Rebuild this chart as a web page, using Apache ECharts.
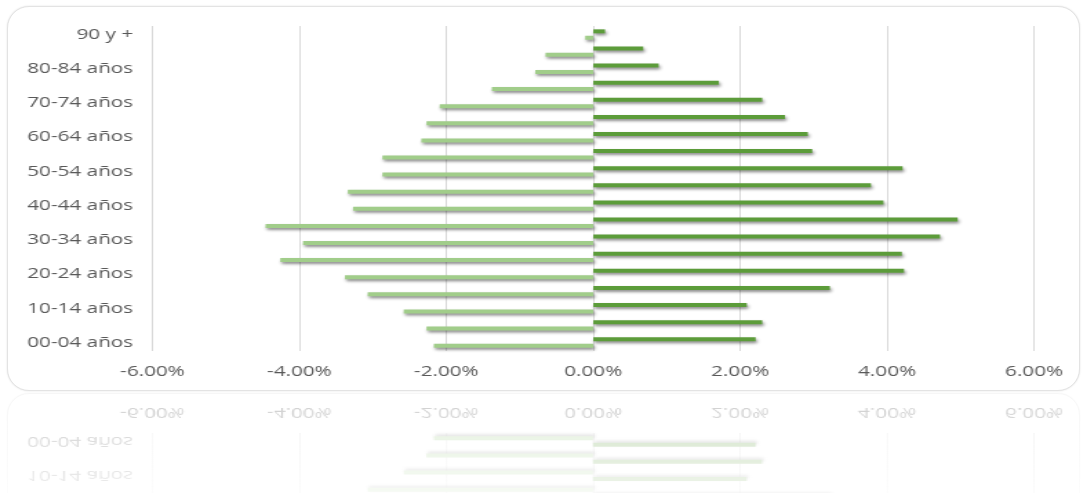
<!DOCTYPE html>
<html>
<head>
<meta charset="utf-8">
<script src="https://cdn.jsdelivr.net/npm/echarts@6/dist/echarts.min.js"></script>
<style>
  html, body { margin: 0; padding: 0; background: #ffffff; width: 1087px; height: 493px; overflow: hidden; }
  .layer { position: absolute; left: 0; top: 0; width: 1087px; height: 392px; }
  .frame { position: absolute; left: 7px; top: 6px; width: 1071px; height: 383px; border: 1px solid #e3e3e3; border-radius: 22px; box-shadow: 0 0 2px rgba(0,0,0,0.12); background: #fff; }
  .chartbox { position: absolute; left: 0; top: 0; width: 788px; height: 392px; transform: scaleX(1.3795); transform-origin: 0 0; }
  #reflWrap { position: absolute; left: 0; top: 392px; width: 1087px; height: 101px; overflow: hidden; opacity: 0.3; filter: blur(0.7px);
    -webkit-mask-image: linear-gradient(to bottom, rgba(0,0,0,1), rgba(0,0,0,0.35));
    mask-image: linear-gradient(to bottom, rgba(0,0,0,1), rgba(0,0,0,0.35)); }
  #mirror { position: absolute; left: 0; top: -392px; width: 1087px; height: 392px; transform: scaleY(-1); transform-origin: 50% 100%; }
</style>
</head>
<body>
<div class="layer">
  <div class="frame"></div>
  <div class="chartbox" id="main"></div>
</div>
<div id="reflWrap">
  <div id="mirror">
    <div class="frame"></div>
    <div class="chartbox" id="refl"></div>
  </div>
</div>
<script>
// Age groups, bottom to top
const categories = ['00-04 años','05-09 años','10-14 años','15-19 años','20-24 años','25-29 años',
  '30-34 años','35-39 años','40-44 años','45-49 años','50-54 años','55-59 años','60-64 años',
  '65-69 años','70-74 años','75-79 años','80-84 años','85-89 años','90 y +'];
// Share of population (%), right side (dark green)
const maleValues = [2.21, 2.30, 2.09, 3.22, 4.23, 4.20, 4.72, 4.96, 3.95, 3.78, 4.21, 2.98, 2.92, 2.61, 2.30, 1.71, 0.89, 0.68, 0.16];
// Share of population (%), left side (light green), drawn as negative
const femaleValues = [2.17, 2.27, 2.58, 3.07, 3.38, 4.26, 3.95, 4.46, 3.27, 3.34, 2.87, 2.87, 2.34, 2.27, 2.09, 1.38, 0.79, 0.65, 0.11];
// X axis ticks (%)
const xTicks = [-6, -4, -2, 0, 2, 4, 6];

const FONT = 'Open Sans';
const labelColor = '#595959';

function buildOption() {
  const shadow = { shadowColor: 'rgba(0,0,0,0.45)', shadowBlur: 3, shadowOffsetX: 1, shadowOffsetY: 2 };
  return {
    animation: false,
    backgroundColor: 'transparent',
    grid: { left: 110.5, right: 38.4, top: 26, bottom: 41, containLabel: false },
    xAxis: {
      type: 'value',
      min: xTicks[0],
      max: xTicks[xTicks.length - 1],
      interval: xTicks[1] - xTicks[0],
      axisLine: { show: false },
      axisTick: { show: false },
      splitLine: { show: true, lineStyle: { color: '#d9d9d9', width: 1 } },
      axisLabel: { margin: 13, color: labelColor, fontFamily: FONT, fontSize: 15,
        formatter: v => v.toFixed(2) + '%' }
    },
    yAxis: {
      type: 'category',
      data: categories,
      axisLine: { show: false, onZero: false },
      axisTick: { show: false },
      splitLine: { show: false },
      axisLabel: { interval: 1, margin: 14, color: labelColor, fontFamily: FONT, fontSize: 15 }
    },
    series: [
      {
        name: 'Hombres', type: 'bar', data: maleValues,
        barWidth: 4, barGap: '60%',
        itemStyle: Object.assign({ color: '#5c9c3a' }, shadow)
      },
      {
        name: 'Mujeres', type: 'bar', data: femaleValues.map(v => -v),
        barWidth: 4, barGap: '60%',
        itemStyle: Object.assign({ color: '#a1cd8a' }, shadow)
      }
    ]
  };
}

const main = echarts.init(document.getElementById('main'), null, { renderer: 'canvas' });
main.setOption(buildOption());
const refl = echarts.init(document.getElementById('refl'), null, { renderer: 'canvas' });
refl.setOption(buildOption());
</script>
</body>
</html>
